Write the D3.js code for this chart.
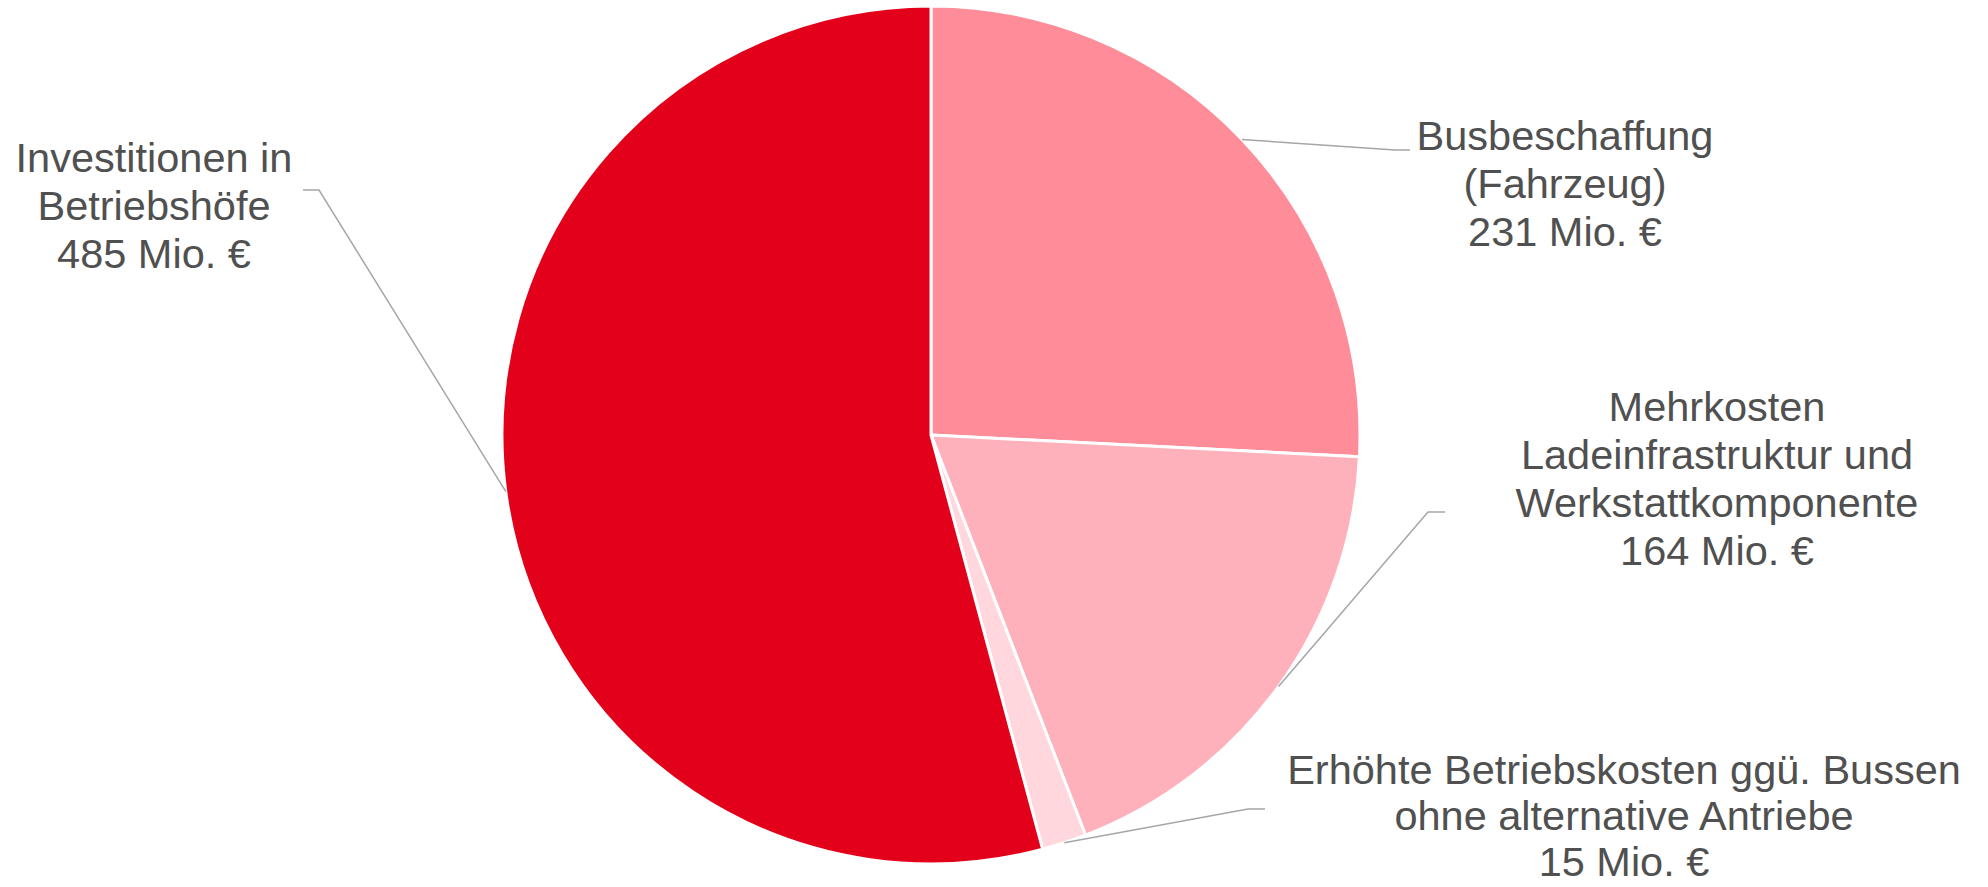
<!DOCTYPE html>
<html>
<head>
<meta charset="utf-8">
<script src="https://cdn.jsdelivr.net/npm/d3@7"></script>
<style>
  html, body { margin: 0; padding: 0; background: #fff; }
  svg { display: block; }
</style>
</head>
<body>
<svg id="chart"></svg>
<script>
// Daten
const categories = [
    ["Busbeschaffung", "(Fahrzeug)"],
    ["Mehrkosten", "Ladeinfrastruktur und", "Werkstattkomponente"],
    ["Erhöhte Betriebskosten ggü. Bussen", "ohne alternative Antriebe"],
    ["Investitionen in", "Betriebshöfe"]
];
const values = [231, 164, 15, 485];
const valueLabels = ["231 Mio. €", "164 Mio. €", "15 Mio. €", "485 Mio. €"];
const colors = ["#ff8c99", "#ffb1bb", "#ffd7dc", "#e2001a"];

// Position der Beschriftungen (Mitte der Textblöcke, Knick der Führungslinie)
const labelLayout = [
    { x: 1565, y: 150, lh: 48, elbow: [1395, 150], end: [1410, 150] },
    { x: 1717, y: 421, lh: 48, elbow: [1428, 512], end: [1445, 512] },
    { x: 1624, y: 784, lh: 46, elbow: [1248, 809], end: [1265, 809] },
    { x: 154,  y: 172, lh: 48, elbow: [319, 190],  end: [303, 190] }
];

const width = 1988, height = 887;
const cx = 931, cy = 435, radius = 429;

const svg = d3.select("#chart")
    .attr("width", width)
    .attr("height", height);

const g = svg.append("g")
    .attr("transform", `translate(${cx},${cy})`);

const pie = d3.pie().sort(null).value(d => d);
const arcs = pie(values);

const arc = d3.arc().innerRadius(0).outerRadius(radius);
const edge = d3.arc().innerRadius(radius).outerRadius(radius);

g.selectAll("path.slice")
    .data(arcs)
    .enter().append("path")
    .attr("class", "slice")
    .attr("d", arc)
    .attr("fill", (d, i) => colors[i])
    .attr("stroke", "#fff")
    .attr("stroke-width", 3)
    .attr("stroke-linejoin", "round");

// Führungslinien
const line = d3.line();
svg.selectAll("path.leader")
    .data(arcs)
    .enter().append("path")
    .attr("class", "leader")
    .attr("d", (d, i) => {
        const c = edge.centroid(d);
        const p0 = [cx + c[0], cy + c[1]];
        return line([p0, labelLayout[i].elbow, labelLayout[i].end]);
    })
    .attr("fill", "none")
    .attr("stroke", "#a6a6a6")
    .attr("stroke-width", 1.5);

// Beschriftungen
const labels = svg.selectAll("text.label")
    .data(arcs)
    .enter().append("text")
    .attr("class", "label")
    .attr("text-anchor", "middle")
    .attr("font-family", "'Liberation Sans', Arial, sans-serif")
    .attr("font-size", 41.5)
    .attr("fill", "#505050");

labels.each(function(d, i) {
    const lines = categories[i].concat([valueLabels[i]]);
    const t = d3.select(this);
    lines.forEach((s, k) => {
        t.append("tspan")
            .attr("x", labelLayout[i].x)
            .attr("y", labelLayout[i].y + k * labelLayout[i].lh)
            .text(s);
    });
});
</script>
</body>
</html>
